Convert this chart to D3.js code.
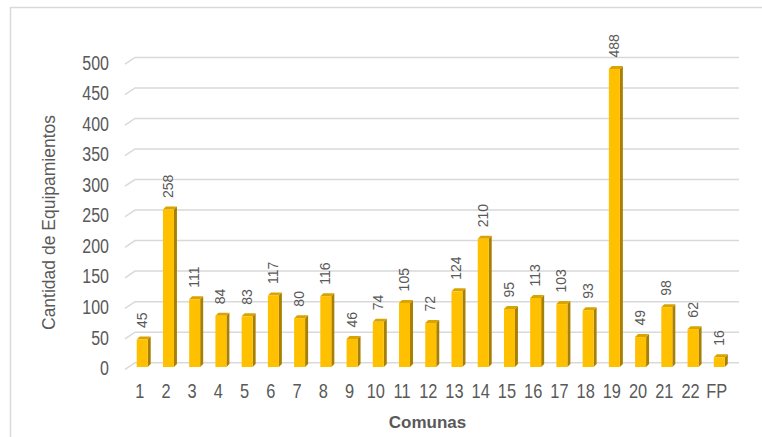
<!DOCTYPE html>
<html>
<head>
<meta charset="utf-8">
<script src="https://cdn.jsdelivr.net/npm/d3@7"></script>
<style>
  html, body { margin: 0; padding: 0; background: #fff; }
  svg { display: block; }
  text { font-family: "Liberation Sans", Arial, sans-serif; fill: #595959; }
</style>
</head>
<body>
<svg id="chart" width="762" height="437"></svg>
<script>
// Equipamientos por comuna
const comunas = ["1","2","3","4","5","6","7","8","9","10","11","12","13","14","15","16","17","18","19","20","21","22","FP"];
const equipamientos = [45,258,111,84,83,117,80,116,46,74,105,72,124,210,95,113,103,93,488,49,98,62,16];
const yTicks = [0,50,100,150,200,250,300,350,400,450,500];

const W = 762, H = 437;
const svg = d3.select("#chart");

// outer frame (top and left edges visible)
svg.append("path")
  .attr("d", `M10.5,${H} L10.5,7.5 L${W},7.5`)
  .attr("fill", "none").attr("stroke", "#d9d9d9").attr("stroke-width", 1.5);

// 3D depth offset of back wall vs front plane
const dx = 3, dy = -3;

const x = d3.scaleBand().domain(comunas).range([129.1, 732.4]);
const yFront = d3.scaleLinear().domain([0, 500]).range([367, 61.7]);
const yBack = v => yFront(v) - 4.3;

const narrow = 0.82;  // horizontal compression for condensed labels

// gridlines: short floor diagonal + back-wall line
const grid = svg.append("g");
yTicks.forEach(t => {
  const yb = yBack(t);
  grid.append("path")
    .attr("d", `M125,${yb + 6.7} L135,${yb} L739,${yb}`)
    .attr("fill", "none").attr("stroke", "#d9d9d9").attr("stroke-width", 1.5);
});

// y tick labels
svg.append("g").selectAll("text").data(yTicks).join("text")
  .attr("transform", d => `translate(109,${yFront(d) + 1.5}) scale(${narrow},1)`)
  .attr("text-anchor", "end")
  .attr("dominant-baseline", "central")
  .attr("font-size", 19.5)
  .text(d => d);

// bars (front, side, top faces)
const data = comunas.map((c, i) => ({ c, v: equipamientos[i] }));
const bw = 11;
const bars = svg.append("g").selectAll("g").data(data).join("g");
bars.each(function(d) {
  const g = d3.select(this);
  const cx = x(d.c) + x.bandwidth() / 2;
  const x0 = cx - bw / 2, x1 = cx + bw / 2;
  const yt = yFront(d.v), yb = yFront(0);
  g.append("path")
    .attr("d", `M${x1},${yt} L${x1 + dx},${yt + dy} L${x1 + dx},${yb + dy} L${x1},${yb} Z`)
    .attr("fill", "#a87f00");
  g.append("path")
    .attr("d", `M${x0},${yt} L${x0 + dx},${yt + dy} L${x1 + dx},${yt + dy} L${x1},${yt} Z`)
    .attr("fill", "#d9a300");
  g.append("rect")
    .attr("x", x0).attr("y", yt).attr("width", bw).attr("height", yb - yt)
    .attr("fill", "#ffc000");
});

// value labels, rotated
svg.append("g").selectAll("text").data(data).join("text")
  .attr("transform", d => `translate(${x(d.c) + x.bandwidth() / 2 - 0.5},${yFront(d.v) - 11.5}) rotate(-90)`)
  .attr("text-anchor", "start")
  .attr("dominant-baseline", "central")
  .attr("font-size", 14)
  .text(d => d.v);

// category labels
svg.append("g").selectAll("text").data(comunas).join("text")
  .attr("transform", d => `translate(${x(d) + x.bandwidth() / 2 - 2.5},398) scale(${narrow},1)`)
  .attr("text-anchor", "middle")
  .attr("font-size", 20)
  .text(d => d);

// axis titles
svg.append("text")
  .attr("transform", "translate(49,222.5) rotate(-90)")
  .attr("text-anchor", "middle")
  .attr("dominant-baseline", "central")
  .attr("font-size", 17.5)
  .text("Cantidad de Equipamientos");

svg.append("text")
  .attr("x", 427.5).attr("y", 428)
  .attr("text-anchor", "middle")
  .attr("font-size", 17)
  .attr("font-weight", "bold")
  .text("Comunas");
</script>
</body>
</html>
